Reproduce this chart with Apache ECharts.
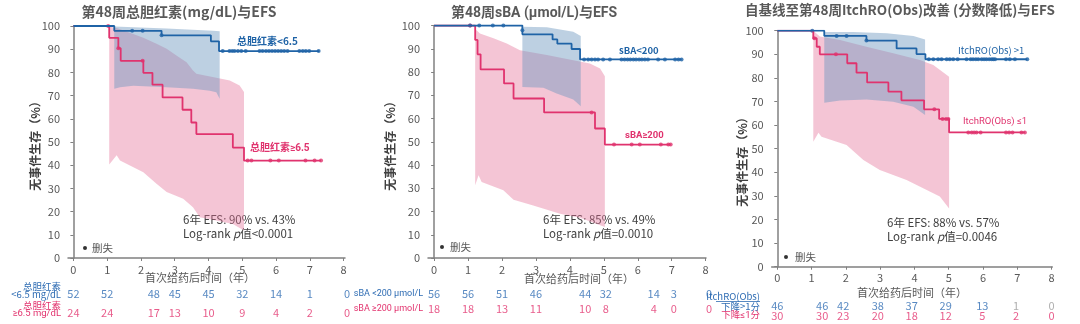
<!DOCTYPE html>
<html><head><meta charset="utf-8">
<script src="https://cdn.jsdelivr.net/npm/echarts@6/dist/echarts.min.js"></script>
<style>html,body{margin:0;padding:0;background:#fff}#c{width:1080px;height:324px}</style>
</head><body><div id="c"></div>
<script>
// ---------------- DATA ----------------
const xTicks = [0,1,2,3,4,5,6,7,8];
const yTicks = [0,10,20,30,40,50,60,70,80,90,100];

// Panel 1: total bilirubin
const p1BlueT = [0, 1.21, 2.61, 4.07, 4.31, 7.28];
const p1BlueS = [100, 97.9, 96.0, 93.4, 89.2, 89.2];
const p1PinkT = [0, 1.06, 1.33, 1.40, 2.07, 2.34, 2.64, 3.23, 3.49, 3.64, 4.72, 5.05, 7.33];
const p1PinkS = [100, 94.9, 90.4, 85.0, 79.8, 74.7, 69.2, 63.9, 58.4, 53.4, 47.6, 42.0, 42.0];
const p1BlueCensT = [1.74, 2.05, 2.61, 4.42, 4.62, 4.70, 4.77, 4.87, 4.97, 5.10, 5.51, 5.60, 5.70, 5.79, 5.88, 5.97, 6.06, 6.15, 6.24, 6.34, 6.69, 6.79, 6.88, 6.98, 7.26];
const p1BlueCensS = [97.9, 97.9, 96.0, 89.2, 89.2, 89.2, 89.2, 89.2, 89.2, 89.2, 89.2, 89.2, 89.2, 89.2, 89.2, 89.2, 89.2, 89.2, 89.2, 89.2, 89.2, 89.2, 89.2, 89.2, 89.2];
const p1PinkCensT = [1.03, 1.33, 2.05, 5.16, 5.27, 5.83, 6.08, 6.87, 7.14, 7.33];
const p1PinkCensS = [100, 90.4, 85.0, 42.0, 42.0, 42.0, 42.0, 42.0, 42.0, 42.0];
const p1BlueBandUp = [[1.21,99.8],[2.76,98.9],[4.13,98.0],[4.33,97.7]];
const p1BlueBandLo = [[1.21,72.9],[1.38,73.6],[1.77,74.2],[2.76,73.6],[3.54,72.9],[4.04,72.1],[4.23,71.4],[4.33,68.6]];
const p1PinkBandUp = [[1.06,99.8],[1.3,99.0],[1.77,96.6],[2.07,94.9],[2.46,92.3],[2.76,90.2],[3.05,87.3],[3.35,84.4],[3.54,80.8],[3.64,79.4],[4.23,77.7],[4.63,76.5],[4.92,74.4],[5.05,71.5]];
const p1PinkBandLo = [[1.06,40.3],[1.28,44.3],[1.38,42.0],[2.07,37.0],[2.46,32.0],[2.76,28.4],[3.25,25.5],[3.54,21.9],[3.74,17.6],[4.23,16.2],[4.72,14.7],[5.05,11.9]];
const p1RiskT = [0, 1, 2.38, 3, 4, 5, 6, 7, 8.1];
const p1RiskBlue = [52, 52, 48, 45, 45, 32, 14, 1, 0];
const p1RiskPink = [24, 24, 17, 13, 10, 9, 4, 2, 0];

// Panel 2: sBA
const p2BlueT = [0, 2.6, 3.49, 3.63, 4.05, 4.3, 7.29];
const p2BlueS = [100, 96.2, 94.0, 92.2, 89.9, 85.4, 85.4];
const p2PinkT = [0, 1.21, 1.28, 1.37, 2.06, 2.34, 3.24, 4.74, 5.03, 6.97];
const p2PinkS = [100, 93.8, 87.6, 81.1, 75.1, 68.6, 62.6, 55.7, 48.8, 48.8];
const p2BlueCensT = [1.06, 1.33, 1.73, 2.04, 2.6, 4.42, 4.54, 4.64, 4.74, 4.83, 4.98, 5.18, 5.52, 5.61, 5.7, 5.78, 5.87, 5.95, 6.04, 6.12, 6.21, 6.3, 6.6, 6.8, 7.1, 7.2, 7.29];
const p2BlueCensS = [100, 100, 100, 100, 98, 85.4, 85.4, 85.4, 85.4, 85.4, 85.4, 85.4, 85.4, 85.4, 85.4, 85.4, 85.4, 85.4, 85.4, 85.4, 85.4, 85.4, 85.4, 85.4, 85.4, 85.4, 85.4];
const p2PinkCensT = [1.06, 4.64, 5.3, 5.82, 6.06, 6.68, 6.9, 6.97];
const p2PinkCensS = [100, 62.6, 48.8, 48.8, 48.8, 48.8, 48.8, 48.8];
const p2BlueBandUp = [[2.6,99.5],[3.32,99.2],[4.1,97.3],[4.32,95.5]];
const p2BlueBandLo = [[2.6,73.6],[3.22,73.2],[3.61,70.8],[4.1,68.2],[4.32,65.3]];
const p2PinkBandUp = [[1.21,98.5],[1.35,96.6],[1.75,94.5],[2.14,92.3],[2.53,89.4],[3.32,87.3],[4.1,85.1],[4.59,83.7],[4.89,81.5],[5.03,78.2]];
const p2PinkBandLo = [[1.21,31.3],[1.31,35.6],[1.40,32.7],[2.04,29.1],[2.34,25.1],[2.92,22.6],[3.71,19.0],[4.3,17.3],[5.03,13.3]];
const p2RiskT = [0, 1, 2, 3, 4.45, 5.06, 6.47, 7.06, 8.1];
const p2RiskBlue = [56, 56, 51, 46, 44, 32, 14, 3, 0];
const p2RiskPink = [18, 18, 13, 11, 10, 8, 4, 0, 0];

// Panel 3: ItchRO(Obs)
const p3BlueT = [0, 1.37, 2.6, 3.48, 4.06, 4.32, 7.29];
const p3BlueS = [100, 97.8, 95.8, 92.5, 90.1, 87.9, 87.9];
const p3PinkT = [0, 1.05, 1.15, 1.24, 2.04, 2.31, 2.62, 3.24, 3.62, 4.28, 4.72, 5.01, 7.22];
const p3PinkS = [100, 96.8, 93.2, 90.0, 86.2, 82.2, 78.1, 74.2, 70.5, 66.7, 62.6, 56.9, 56.9];
const p3BlueCensT = [1.02, 1.73, 2.02, 2.6, 4.42, 4.55, 4.69, 4.79, 4.94, 5.03, 5.13, 5.26, 5.52, 5.64, 5.71, 5.79, 5.86, 5.96, 6.03, 6.1, 6.18, 6.25, 6.3, 6.35, 6.67, 6.78, 6.93, 7.29];
const p3BlueCensS = [100, 97.8, 97.8, 95.8, 87.9, 87.9, 87.9, 87.9, 87.9, 87.9, 87.9, 87.9, 87.9, 87.9, 87.9, 87.9, 87.9, 87.9, 87.9, 87.9, 87.9, 87.9, 87.9, 87.9, 87.9, 87.9, 87.9, 87.9];
const p3PinkCensT = [1.08, 1.71, 4.58, 4.82, 4.92, 4.99, 5.57, 5.67, 5.74, 5.81, 5.93, 6.67, 6.76, 6.86, 7.12, 7.22];
const p3PinkCensS = [96.8, 90.0, 66.7, 62.6, 62.6, 62.6, 56.9, 56.9, 56.9, 56.9, 56.9, 56.9, 56.9, 56.9, 56.9, 56.9];
const p3BlueBandUp = [[1.37,99.4],[2.22,99.4],[3.19,98.9],[3.97,97.8],[4.31,96.3]];
const p3BlueBandLo = [[1.37,69.5],[1.83,70.4],[2.6,70.9],[3.38,69.9],[3.97,67.8],[4.31,64.3]];
const p3PinkBandUp = [[1.05,100],[1.24,97.5],[1.83,96.1],[2.6,93.2],[3.38,90.4],[4.16,87.6],[4.55,85.5],[5.01,80.5]];
const p3PinkBandLo = [[1.05,52.9],[1.2,56.8],[1.29,55.1],[2.02,51.6],[2.51,45.2],[2.99,41.0],[3.77,36.7],[4.74,29.7],[5.01,24.7]];
const p3RiskT = [0, 1.31, 1.92, 2.93, 3.92, 4.91, 5.98, 6.96, 8.0];
const p3RiskBlue = [46, 46, 42, 38, 37, 29, 13, 1, 0];
const p3RiskPink = [30, 30, 23, 20, 18, 12, 5, 2, 0];

// ---------------- STYLE / LAYOUT ----------------
const FONT = "'Noto Sans CJK SC','Noto Sans',sans-serif";
const FONT_L = "Roboto,'Noto Sans','Noto Sans CJK SC',sans-serif";
const BLUE = '#1f63a6', PINK = '#e0336e';
const BLUE_T = '#2e6cb3', PINK_T = '#e2336e', GRAY_T = '#9a9a9a';
const BLUE_BAND = 'rgba(108,150,191,0.45)', PINK_BAND = 'rgba(228,110,150,0.40)';
const AXIS = '#808080', TXT = '#595959';

const panels = [
  {left:68, width:277, top:26, height:232, xmin:-0.16, xmax:8.04, riskTop:280, riskRows:[14,33],
   bT:p1BlueT,bS:p1BlueS,pT:p1PinkT,pS:p1PinkS,bcT:p1BlueCensT,bcS:p1BlueCensS,pcT:p1PinkCensT,pcS:p1PinkCensS,
   bU:p1BlueBandUp,bL:p1BlueBandLo,pU:p1PinkBandUp,pL:p1PinkBandLo,rT:p1RiskT,rB:p1RiskBlue,rP:p1RiskPink, grayFrom:99},
  {left:428, width:278, top:25.5, height:232.5, xmin:-0.18, xmax:8.01, riskTop:280, riskRows:[14,29],
   bT:p2BlueT,bS:p2BlueS,pT:p2PinkT,pS:p2PinkS,bcT:p2BlueCensT,bcS:p2BlueCensS,pcT:p2PinkCensT,pcS:p2PinkCensS,
   bU:p2BlueBandUp,bL:p2BlueBandLo,pU:p2PinkBandUp,pL:p2PinkBandLo,rT:p2RiskT,rB:p2RiskBlue,rP:p2RiskPink, grayFrom:99},
  {left:771.7, width:280.6, top:30.7, height:236, xmin:-0.163, xmax:8.02, riskTop:280, riskRows:[26,35.7],
   bT:p3BlueT,bS:p3BlueS,pT:p3PinkT,pS:p3PinkS,bcT:p3BlueCensT,bcS:p3BlueCensS,pcT:p3PinkCensT,pcS:p3PinkCensS,
   bU:p3BlueBandUp,bL:p3BlueBandLo,pU:p3PinkBandUp,pL:p3PinkBandLo,rT:p3RiskT,rB:p3RiskBlue,rP:p3RiskPink, grayFrom:7}
];

const grid=[], xAxis=[], yAxis=[], series=[];
const zip = (a,b) => a.map((v,i)=>[v,b[i]]);

panels.forEach((p,i)=>{
  const gi = grid.length;
  grid.push({left:p.left, top:p.top, width:p.width, height:p.height});
  grid.push({left:p.left, top:p.riskTop, width:p.width, height:40});
  xAxis.push({type:'value', gridIndex:gi, min:p.xmin, max:p.xmax,
    axisLine:{show:true, lineStyle:{color:AXIS, width:1.5}},
    axisTick:{show:true, length:3, lineStyle:{color:AXIS}, customValues:xTicks},
    axisLabel:{color:TXT, fontSize:11, fontFamily:FONT, margin:6, customValues:xTicks},
    splitLine:{show:false}});
  xAxis.push({type:'value', gridIndex:gi+1, min:p.xmin, max:p.xmax, show:false});
  yAxis.push({type:'value', gridIndex:gi, min:0, max:100,
    axisLine:{show:true, lineStyle:{color:AXIS, width:1.5}},
    axisTick:{show:true, length:3, lineStyle:{color:AXIS}, customValues:yTicks},
    axisLabel:{color:TXT, fontSize:11, fontFamily:FONT, margin:8, customValues:yTicks},
    splitLine:{show:false}});
  yAxis.push({type:'value', gridIndex:gi+1, min:0, max:40, inverse:true, show:false});

  const bandSeries = (up, lo, fill) => ({
    type:'custom', xAxisIndex:gi, yAxisIndex:gi, coordinateSystem:'cartesian2d', clip:false,
    data:[[0,0]], silent:true,
    renderItem:(params, api)=>{
      const pts = up.map(d=>api.coord(d)).concat(lo.slice().reverse().map(d=>api.coord(d)));
      return {type:'polygon', shape:{points:pts}, style:{fill:fill}};
    }
  });
  series.push(bandSeries(p.pU, p.pL, PINK_BAND));
  series.push(bandSeries(p.bU, p.bL, BLUE_BAND));
  const lineS = (t,s,c) => ({type:'line', xAxisIndex:gi, yAxisIndex:gi, step:'end', data:zip(t,s),
    symbol:'none', lineStyle:{color:c, width:1.8}, silent:true, animation:false});
  series.push(lineS(p.pT, p.pS, PINK));
  series.push(lineS(p.bT, p.bS, BLUE));
  const censS = (t,s,c) => ({type:'scatter', xAxisIndex:gi, yAxisIndex:gi, data:zip(t,s),
    symbol:'circle', symbolSize:4, itemStyle:{color:c}, silent:true, clip:false});
  series.push(censS(p.pcT, p.pcS, PINK));
  series.push(censS(p.bcT, p.bcS, BLUE));
  // risk table
  const riskS = (t, vals, row, col) => ({type:'scatter', xAxisIndex:gi+1, yAxisIndex:gi+1, clip:false, silent:true,
    data: t.map((x,k)=>({value:[x,row], label:{color: (k>=p.grayFrom && col===BLUE_T) ? GRAY_T : col}})),
    symbolSize:0.1, itemStyle:{color:'rgba(0,0,0,0)'},
    label:{show:true, position:'inside', fontSize:11, fontFamily:FONT, formatter:(d)=>String(vals[d.dataIndex])}});
  series.push(riskS(p.rT, p.rB, p.riskRows[0], BLUE_T));
  series.push(riskS(p.rT, p.rP, p.riskRows[1], PINK_T));
});

// text elements
const T = (x,y,text,o={}) => ({type:'text', x, y, silent:true, rotation:o.rot||0,
  style:{text, fill:o.color||TXT, font:(o.bold?'bold ':'')+(o.size||11)+'px '+(o.font||FONT),
    align:o.align||'left', verticalAlign:'middle', rich:o.rich}});
const dot = (x,y) => ({type:'circle', shape:{cx:x, cy:y, r:2}, style:{fill:'#333'}, silent:true});
const hline = (x1,x2,y,c) => ({type:'line', shape:{x1,y1:y,x2,y2:y}, style:{stroke:c, lineWidth:0.8}, silent:true});
const richP = (size)=>({i:{fontStyle:'italic', fontSize:size, fontFamily:FONT, fill:'#404040'}});
const ANN = '#404040';

const graphic = [
  // Panel 1
  T(179,12,'第48周总胆红素(mg/dL)与EFS',{bold:true,size:14,align:'center'}),
  T(35,143,'无事件生存（%）',{bold:true,size:12,align:'center',rot:Math.PI/2,color:ANN}),
  T(237,41,'总胆红素<6.5',{bold:true,size:10,color:BLUE}),
  T(250,148,'总胆红素≥6.5',{bold:true,size:10,color:PINK,font:FONT_L}),
  T(183,220,'6年 EFS: 90% vs. 43%',{size:11.5,color:ANN}),
  T(183,234,'Log-rank {i|p}值<0.0001',{size:11.5,color:ANN,rich:richP(11.5)}),
  dot(85,248), T(92,248,'删失',{size:10.5}),
  T(200,278,'首次给药后时间（年）',{size:11,align:'center'}),
  T(61,286,'总胆红素',{size:9.5,align:'right',color:BLUE_T}),
  T(61,294.5,'<6.5 mg/dL',{size:9.5,align:'right',color:BLUE_T}),
  T(61,305,'总胆红素',{size:9.5,align:'right',color:PINK_T}),
  T(61,313.5,'≥6.5 mg/dL',{size:9.5,align:'right',color:PINK_T,font:FONT_L}),
  // Panel 2
  T(534,13,'第48周sBA (μmol/L)与EFS',{bold:true,size:14,align:'center',font:FONT_L}),
  T(390,143,'无事件生存（%）',{bold:true,size:12,align:'center',rot:Math.PI/2,color:ANN}),
  T(619,50,'sBA<200',{bold:true,size:9.5,color:BLUE}),
  T(625,136,'sBA≥200',{bold:true,size:9.5,color:PINK,font:FONT_L}),
  T(543,220,'6年 EFS: 85% vs. 49%',{size:11.5,color:ANN}),
  T(543,234,'Log-rank {i|p}值=0.0010',{size:11.5,color:ANN,rich:richP(11.5)}),
  dot(442,247), T(450,247,'删失',{size:10.5}),
  T(579,279,'首次给药后时间（年）',{size:11,align:'center'}),
  T(423,294,'sBA <200 μmol/L',{size:9,align:'right',color:BLUE_T,font:FONT_L}),
  T(423,309,'sBA ≥200 μmol/L',{size:9,align:'right',color:PINK_T,font:FONT_L}),
  // Panel 3
  T(900,10,'自基线至第48周ItchRO(Obs)改善 (分数降低)与EFS',{bold:true,size:13.5,align:'center'}),
  T(742,159,'无事件生存（%）',{bold:true,size:12,align:'center',rot:Math.PI/2,color:ANN}),
  T(958,50,'ItchRO(Obs) >1',{size:9.5,color:BLUE}),
  T(963,122,'ItchRO(Obs) ≤1',{size:9.5,color:PINK,font:FONT_L}),
  T(887,223,'6年 EFS: 88% vs. 57%',{size:11.5,color:ANN}),
  T(887,237,'Log-rank {i|p}值=0.0046',{size:11.5,color:ANN,rich:richP(11.5)}),
  dot(786,257), T(795,257,'删失',{size:10.5}),
  T(912,293,'首次给药后时间（年）',{size:11,align:'center'}),
  T(760,296.7,'ItchRO(Obs)',{size:9.5,align:'right',color:BLUE_T}),
  hline(716,760,301.5,BLUE_T),
  T(760,306,'下降>1分',{size:9.5,align:'right',color:BLUE_T}),
  T(760,315.7,'下降≤1分',{size:9.5,align:'right',color:PINK_T,font:FONT_L})
];

const chart = echarts.init(document.getElementById('c'));
chart.setOption({animation:false, backgroundColor:'#fff', grid, xAxis, yAxis, series, graphic:{elements:graphic}});
</script></body></html>
